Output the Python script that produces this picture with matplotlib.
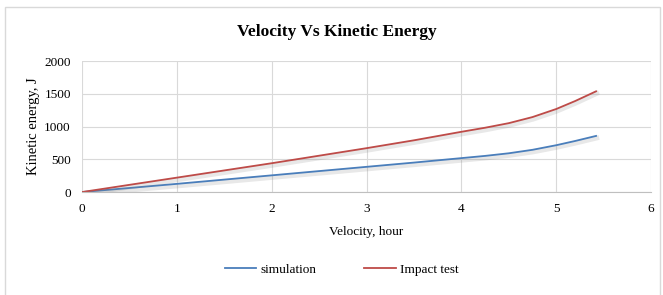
import matplotlib.pyplot as plt
import matplotlib.patheffects as pe
from matplotlib.lines import Line2D
from matplotlib.patches import Rectangle

# values
velocity = [0, 0.5, 1, 1.5, 2, 2.5, 3, 3.5, 4, 4.25, 4.5, 4.75, 5, 5.2, 5.42]
simulation = [0, 62, 125, 190, 255, 320, 385, 450, 518, 552, 592, 645, 715, 780, 857]
impact_test = [0, 110, 220, 330, 440, 555, 670, 790, 920, 982, 1052, 1145, 1268, 1390, 1538]

x_ticks = [0, 1, 2, 3, 4, 5, 6]
y_ticks = [0, 500, 1000, 1500, 2000]

plt.rcParams['font.family'] = ['Liberation Serif', 'DejaVu Serif']

BLUE = '#4a7ebb'
RED = '#be4b48'


def main():
    fig = plt.figure(figsize=(6.63, 2.95), dpi=100)
    ax = fig.add_axes([0.1237, 0.349, 0.8583, 0.444])

    # outer chart border
    fig.patches.append(Rectangle((5 / 663, -0.05), 655 / 663, 1.05 - 7 / 295,
                                 transform=fig.transFigure, fill=False,
                                 edgecolor='#d9d9d9', linewidth=1.0))

    shadow = [pe.SimpleLineShadow(offset=(0.5, -1.5), shadow_color='#808080', alpha=0.18, linewidth=3.5),
              pe.Normal()]
    ax.plot(velocity, simulation, color=BLUE, linewidth=1.3, path_effects=shadow)
    ax.plot(velocity, impact_test, color=RED, linewidth=1.3, path_effects=shadow)

    ax.set_xlim(0, 6)
    ax.set_ylim(0, 2000)
    ax.set_xticks(x_ticks)
    ax.set_yticks(y_ticks)
    ax.grid(True, color='#d9d9d9', linewidth=0.8)
    ax.set_axisbelow(True)
    for side in ['top', 'right', 'left']:
        ax.spines[side].set_visible(False)
    ax.spines['bottom'].set_color('#bfbfbf')
    ax.tick_params(length=0, labelsize=9.5, pad=8)

    fig.text(337 / 663, 0.893, 'Velocity Vs Kinetic Energy', fontsize=12.5,
             fontweight='bold', ha='center', va='center')
    ax.set_xlabel('Velocity, hour', fontsize=9.5, labelpad=8)
    ax.set_ylabel('Kinetic energy, J', fontsize=10.5)
    ax.yaxis.set_label_coords(-0.073, 0.5)

    handles = [Line2D([], [], color=BLUE, linewidth=1.3),
               Line2D([], [], color=RED, linewidth=1.3)]
    fig.legend(handles, ['simulation', 'Impact test'], loc='center',
               bbox_to_anchor=(0.515, 0.085), ncol=2, frameon=False,
               fontsize=9.5, handlelength=2.4, columnspacing=3.6, handletextpad=0.3)

    fig.savefig('out.png', dpi=100)


if __name__ == '__main__':
    main()
